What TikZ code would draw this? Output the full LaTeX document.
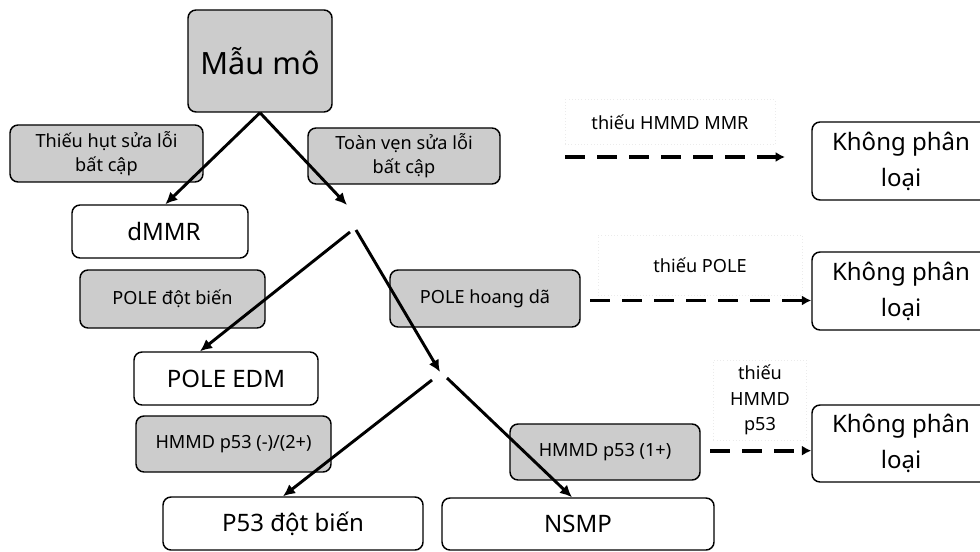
\documentclass[tikz,border=0pt]{standalone}
\usepackage{fontspec}
\setmainfont{Noto Sans}
\usetikzlibrary{positioning, arrows.meta}

\begin{document}
\begin{tikzpicture}[
        x = 0.75pt, y = -0.75pt,
        box/.style        = {draw, line width=1.1pt, rounded corners=6pt, align=center, inner sep=2pt},
        graybox/.style    = {box, fill=black!20, font=\fontsize{13.6}{18}\selectfont},
        whitebox/.style   = {box, fill=white, font=\fontsize{18}{24}\selectfont},
        unclass/.style    = {box, fill=white, font=\fontsize{18}{27}\selectfont,
                             minimum width=133.5pt, minimum height=58.5pt},
        note/.style       = {draw=black!8, dotted, align=center, font=\fontsize{13.6}{19}\selectfont},
        solidarrow/.style = {draw, line width=2.2pt, -{Latex[length=9pt,width=8.5pt]}},
        dasharrow/.style  = {draw, line width=2.8pt, dash pattern=on 15pt off 9pt, -{Latex[length=7pt,width=7.5pt]}},
    ]
    \useasboundingbox (0,0) rectangle (980,552);

    % main path
    \node [box, fill=black!20, font=\fontsize{23}{28}\selectfont,
           minimum width=108pt, minimum height=76.5pt] (tissue) at (260,61) {Mẫu mô};
    \node [graybox, minimum width=144.75pt, minimum height=42.75pt] (dmmrlab) at (106.5,153.5) {Thiếu hụt sửa lỗi\\bất cập};
    \node [graybox, minimum width=144pt, minimum height=42pt] (pmmrlab) at (404,156) {Toàn vẹn sửa lỗi\\bất cập};
    \node [whitebox, minimum width=132pt, minimum height=39.75pt] (dmmr) at (160,231.5) {\hspace{6pt}dMMR};
    \node [graybox, minimum width=138.75pt, minimum height=43.5pt] (polemut) at (172.5,299) {POLE đột biến};
    \node [graybox, minimum width=142.5pt, minimum height=42.75pt] (polewt) at (485,298.5) {POLE hoang dã};
    \node [whitebox, minimum width=138pt, minimum height=39.75pt] (poleedm) at (226,378.5) {POLE EDM};
    \node [graybox, minimum width=146.25pt, minimum height=42pt] (p53neg) at (233.5,444) {HMMD p53 (-)/(2+)};
    \node [graybox, minimum width=142.5pt, minimum height=42pt] (p53pos) at (605,452) {HMMD p53 (1+)};
    \node [whitebox, minimum width=195pt, minimum height=39.75pt] (p53mut) at (293,523.5) {P53 đột biến};
    \node [whitebox, minimum width=204pt, minimum height=39pt] (nsmp) at (578,524) {NSMP};

    % junctions
    \coordinate (split1) at (347,205);
    \coordinate (split1l) at (350,232);
    \coordinate (split1r) at (356,230);
    \coordinate (split2) at (440,372);
    \coordinate (split2l) at (432,380);
    \coordinate (split2r) at (447,378);

    \draw [solidarrow] (tissue.south) -- ([xshift=4pt]dmmr.north);
    \draw [solidarrow] (tissue.south) -- (split1);
    \draw [solidarrow] (split1l) -- ([xshift=-19.5pt]poleedm.north);
    \draw [solidarrow] (split1r) -- (split2);
    \draw [solidarrow] (split2l) -- ([xshift=-7.5pt]p53mut.north);
    \draw [solidarrow] (split2r) -- ([xshift=-4.5pt]nsmp.north);

    % unclassified branch
    \node [unclass] (nc1) at (901,161) {Không phân\\loại};
    \node [unclass] (nc2) at (901,291) {Không phân\\loại};
    \node [unclass, minimum height=57.75pt] (nc3) at (901,443.5) {Không phân\\loại};

    \node [note, minimum width=157.5pt, minimum height=33.75pt] (nommr) at (670,122) {thiếu HMMD MMR};
    \node [note, minimum width=153pt, minimum height=45pt] (nopole) at (700,265) {thiếu POLE};
    \node [note, minimum width=70pt, minimum height=60pt] (nop53) at (760,400) {thiếu\\HMMD\\p53};

    \coordinate (miss1) at (565,157);
    \coordinate (miss1end) at (785,157);
    \draw [dasharrow] (miss1) -- (miss1end);
    \draw [dasharrow] ([xshift=7pt,yshift=-1.5pt]polewt.east) -- ([yshift=-1.5pt]polewt.east -| nc2.west);
    \draw [dasharrow] ([xshift=7pt,yshift=1pt]p53pos.east) -- ([yshift=1pt]p53pos.east -| nc3.west);
\end{tikzpicture}
\end{document}
